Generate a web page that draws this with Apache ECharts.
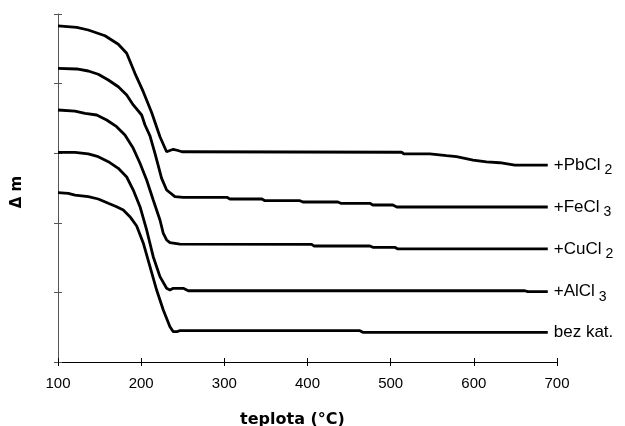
<!DOCTYPE html>
<html>
<head>
<meta charset="utf-8">
<script src="https://cdn.jsdelivr.net/npm/echarts@6/dist/echarts.min.js"></script>
<style>
html,body{margin:0;padding:0;background:#fff;}
#chart{width:625px;height:426px;}
</style>
</head>
<body>
<div id="chart"></div>
<script>
// temperatures (°C) and relative mass values (arbitrary offset units)
var pbcl2 = [[100,4.828],[122.5,4.809],[136.4,4.770],[156.5,4.688],[172.5,4.565],[182.6,4.435],[192.5,4.148],[202.5,3.884],[212.6,3.585],[222.6,3.237],[230.6,3.021],[234.6,3.039],[238.6,3.056],[244.2,3.039],[249.0,3.021],[513.1,3.014],[515.8,2.989],[547.1,2.989],[567.2,2.964],[579.2,2.950],[599.1,2.902],[615.2,2.874],[631.2,2.863],[649.3,2.830],[688.9,2.830]];
var fecl3 = [[100,4.220],[122.5,4.210],[136.4,4.181],[148.4,4.134],[160.5,4.052],[172.5,3.955],[182.6,3.836],[190.5,3.693],[200.6,3.549],[204.6,3.405],[210.6,3.250],[216.6,2.999],[224.6,2.639],[230.6,2.471],[240.6,2.375],[250.6,2.366],[303.1,2.366],[306.7,2.342],[345.2,2.342],[348.8,2.318],[390.9,2.318],[394.5,2.299],[436.5,2.299],[440.1,2.280],[475.0,2.280],[478.6,2.256],[502.6,2.256],[507.4,2.227],[688.9,2.227]];
var cucl2 = [[100,3.621],[120.4,3.606],[132.5,3.573],[146.5,3.549],[158.5,3.477],[170.5,3.381],[180.5,3.261],[190.5,3.070],[198.6,2.855],[206.6,2.615],[214.5,2.328],[222.6,2.040],[226.6,1.849],[230.6,1.753],[234.6,1.714],[246.6,1.695],[404.9,1.691],[407.7,1.667],[475.0,1.667],[478.6,1.648],[505.0,1.648],[508.6,1.624],[688.9,1.624]];
var alcl3 = [[100,3.013],[120.4,3.013],[136.4,2.989],[148.4,2.950],[160.5,2.878],[172.5,2.783],[182.6,2.658],[190.5,2.471],[198.6,2.231],[206.6,1.897],[214.5,1.513],[222.6,1.226],[230.6,1.059],[234.6,1.034],[238.6,1.059],[250.6,1.059],[256.6,1.024],[661.3,1.024],[664.9,1.010],[688.9,1.010]];
var bezkat = [[100,2.433],[112.4,2.424],[120.4,2.399],[136.4,2.375],[148.4,2.342],[160.5,2.280],[170.5,2.231],[178.5,2.184],[186.5,2.088],[194.6,1.954],[202.5,1.710],[210.6,1.369],[218.6,1.034],[226.6,0.747],[234.6,0.507],[238.6,0.435],[242.7,0.435],[246.6,0.450],[463.0,0.450],[466.6,0.427],[688.9,0.427]];
var seriesNames = ['+PbCl2','+FeCl3','+CuCl2','+AlCl3','bez kat.'];
var labelMain = ['+PbCl','+FeCl','+CuCl','+AlCl','bez kat.'];
var labelSub = ['2','3','2','3',''];
var xTicks = [100,200,300,400,500,600,700];

var FONT = '"Liberation Sans", Arial, sans-serif';
var TFONT = '"DejaVu Sans", sans-serif';
var allData = [pbcl2, fecl3, cucl2, alcl3, bezkat];

var series = allData.map(function(d, i){
  return {
    name: seriesNames[i],
    type: 'line',
    data: d,
    xAxisIndex: 0, yAxisIndex: 0,
    showSymbol: false,
    smooth: false,
    animation: false,
    lineStyle: {color:'#000', width:2.8},
    endLabel: {
      show: true,
      distance: 6,
      formatter: labelSub[i] ? '{a|' + labelMain[i] + '}{s|' + labelSub[i] + '}' : '{a|' + labelMain[i] + '}',
      rich: {
        a: {fontFamily: FONT, fontSize: 17, color: '#000'},
        s: {fontFamily: FONT, fontSize: 14, color: '#000', padding: [10,0,0,4]}
      }
    }
  };
});

var chart = echarts.init(document.getElementById('chart'), null, {renderer:'canvas'});
chart.setOption({
  backgroundColor: '#fff',
  animation: false,
  grid: {left:58, right:68, top:14, bottom:64, containLabel:false, outerBoundsMode:'none'},
  xAxis: [{
    type:'value', min:100, max:700, interval:100,
    name:'teplota (°C)', nameLocation:'middle', nameGap:50,
    nameTextStyle:{fontFamily:TFONT, fontSize:16, fontWeight:'bold', color:'#000', padding:[0,30,0,0]},
    axisLine:{lineStyle:{color:'#000', width:1}},
    axisTick:{show:true, inside:false, length:4, lineStyle:{color:'#000'}},
    axisLabel:{fontFamily:FONT, fontSize:15, color:'#000', margin:14},
    splitLine:{show:false}
  },{
    type:'value', min:100, max:700, interval:100, position:'bottom',
    axisLine:{show:false},
    axisTick:{show:true, inside:true, length:4, lineStyle:{color:'#000'}},
    axisLabel:{show:false}, splitLine:{show:false}
  }],
  yAxis: [{
    type:'value', min:0, max:5, interval:1,
    name:'Δ m', nameLocation:'middle', nameGap:33, nameRotate:90,
    nameTextStyle:{fontFamily:TFONT, fontSize:15, fontWeight:'bold', color:'#000', padding:[0,8,0,0]},
    axisLine:{show:true, lineStyle:{color:'#555', width:1}},
    axisTick:{show:true, inside:false, length:4, lineStyle:{color:'#555'}},
    axisLabel:{show:false}, splitLine:{show:false}
  },{
    type:'value', min:0, max:5, interval:1, position:'left',
    axisLine:{show:false},
    axisTick:{show:true, inside:true, length:4, lineStyle:{color:'#555'}},
    axisLabel:{show:false}, splitLine:{show:false}
  }],
  series: series
});
</script>
</body>
</html>
